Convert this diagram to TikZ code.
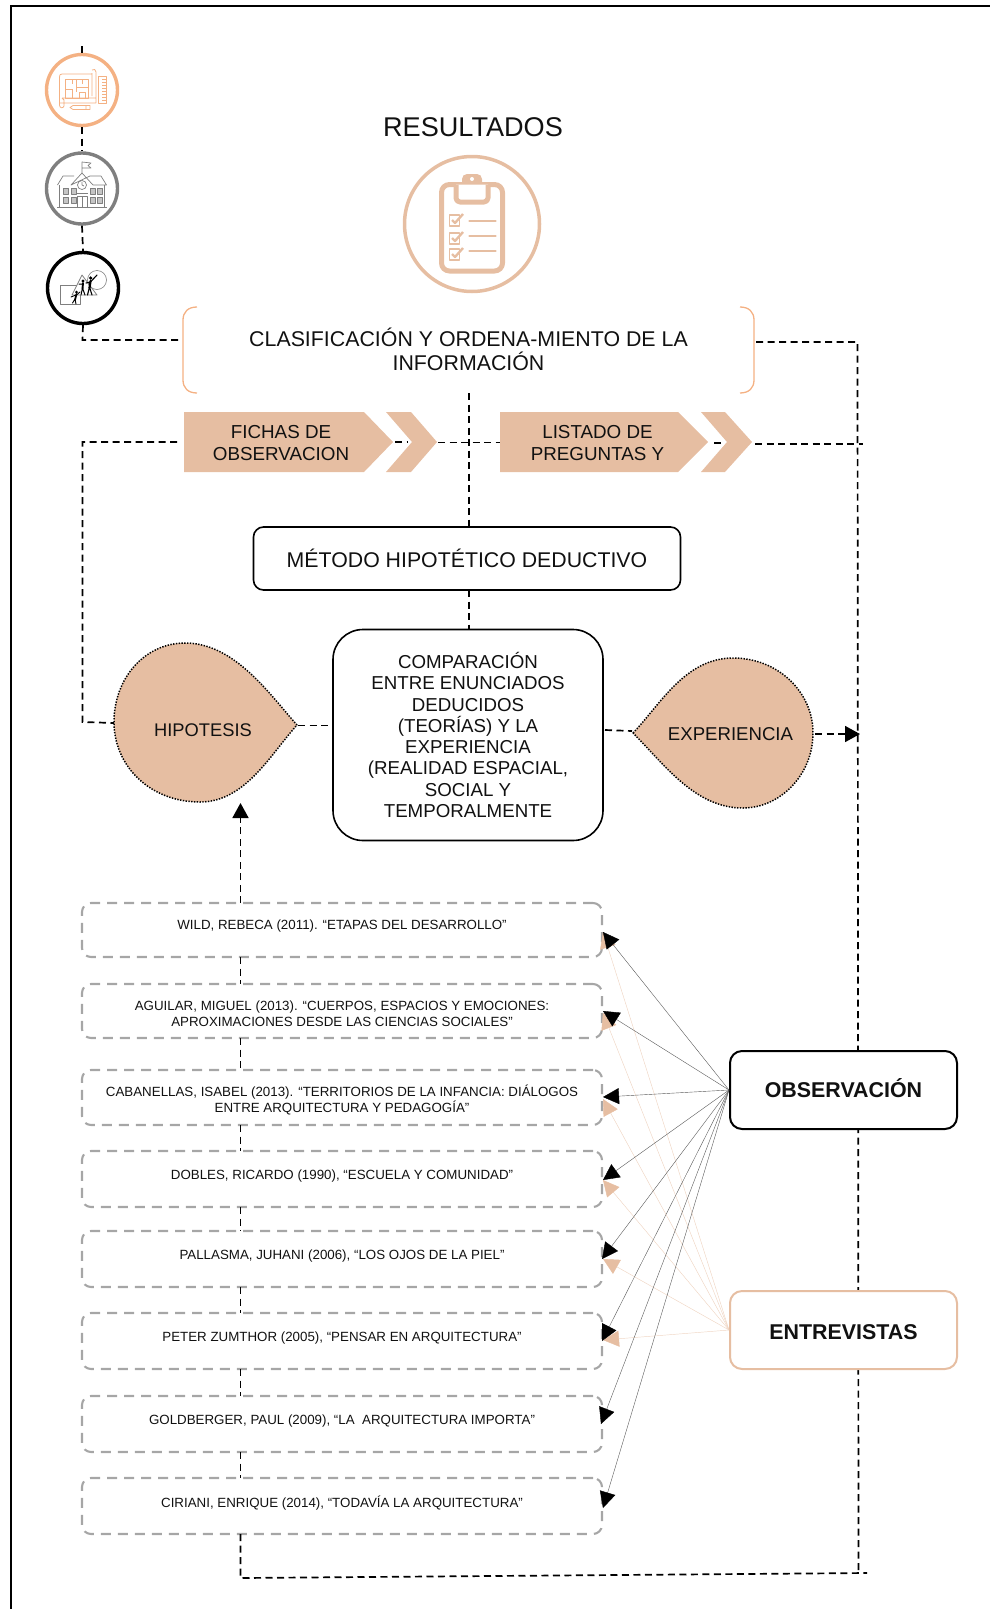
\documentclass[tikz,border=0pt]{standalone}
\usepackage{fontspec}
\setmainfont{Liberation Sans}
\usetikzlibrary{arrows.meta,calc}
\definecolor{peach}{HTML}{E6BEA2}
\definecolor{orng}{HTML}{F4B183}
\definecolor{gry}{HTML}{7F7F7F}
\definecolor{lgry}{HTML}{A6A6A6}
\definecolor{txt}{HTML}{111111}
\newcommand{\rtxt}[2]{\raisebox{#1}[0pt][0pt]{\begin{tabular}{@{}c@{}}#2\end{tabular}}}
\tikzset{
  dashline/.style={line width=1.7pt,dash pattern=on 7pt off 4.5pt,black},
  iconring/.style={circle,minimum size=71pt,inner sep=0pt,line width=3.4pt,draw},
  refbox/.style={draw=lgry,line width=2.1pt,dash pattern=on 10pt off 7pt,rounded corners=9pt,minimum width=520pt,inner sep=0pt,font=\fontsize{13.33}{15.2}\selectfont,text=txt},
  blackbox/.style={draw=black,line width=1.6pt,fill=white,inner sep=0pt,align=center,text=txt},
  drop/.style={fill=peach,draw=black,line width=1.5pt,dash pattern=on 1.4pt off 1.4pt},
  plain/.style={inner sep=0pt,align=center,text=txt},
  mid/.style={font=\fontsize{18.8}{22}\selectfont},
  blk/.style={line width=.4pt,draw=black!65,-{Triangle[length=16pt,width=16pt,color=black]}},
  org/.style={line width=.45pt,draw=peach!65,-{Triangle[length=16pt,width=16pt,color=peach]}},
  sideb/.style={line width=2pt,rounded corners=12pt,minimum width=227pt,minimum height=78pt,inner sep=0pt,fill=white,font=\fontsize{21.4}{25}\selectfont\bfseries,text=txt,text height=15.3pt,text depth=0pt},
}
\begin{document}
\begin{tikzpicture}[x=1pt,y=-1pt]
\useasboundingbox (0,0) rectangle (990,1609);
\draw[line width=2.6pt,black] (11,1609) -- (11,6) -- (990,6);

% left icon column
\coordinate (ctop) at (82,46);
\coordinate (cbend) at (82.5,340);
\node[iconring,draw=orng] (c1) at (82,90) {};
\node[iconring,draw=gry] (c2) at (82,188.5) {};
\node[iconring,draw=black] (c3) at (83,288) {};
\draw[dashline] (ctop) -- (c1.north);
\draw[dashline] (c1.south) -- (c2.north);
\draw[dashline] (c2.south) -- (c3.north);

% blueprint icon
\begin{scope}[orng,line width=.8pt,line join=round]
  \draw (92,73) -- (92,96) (92,70) .. controls (94,68) and (96,70) .. (96,72) -- (96,98) -- (62,98) (60,103) -- (96,103) -- (96,98)
        (92,74) -- (62,74) .. controls (60,74) and (59.5,75) .. (59.5,77) -- (59.5,105) .. controls (59.5,108) and (63,109) .. (64,106) -- (64,100) -- (62,98);
  \draw (65,79) rectangle (88,98);
  \draw (65,89) -- (72,89) (72,79) -- (72,84) (72,89) -- (72,98) (76,79) -- (76,92) (76,87) -- (88,87) (79,92) rectangle (85,98) (82,79) -- (82,84);
  \draw (98,76) rectangle (106,103);
  \foreach \yy in {79,82,...,100} \draw (102,\yy) -- (106,\yy);
  \draw (70,107.5) -- (73,105.5) -- (90,105.5) -- (90,109.5) -- (73,109.5) -- cycle (86,105.5) -- (86,109.5);
\end{scope}
% school icon
\begin{scope}[gry,line width=.7pt,line join=round]
  \draw (82,173) -- (82,162) -- (91,163) -- (88,165.5) -- (91,168) -- (82,168);
  \draw (57.5,185) -- (63,176) -- (74,176) (90,176) -- (101,176) -- (106.5,185) -- (93,185) -- (82,173) -- (71,185) -- cycle;
  \draw (59.5,185) -- (59.5,207) (104.5,185) -- (104.5,207) (57,207) -- (107,207);
  \draw (82,185) circle (4.5pt) (82,182) -- (82,185) -- (84,186);
  \draw (77.5,207) -- (77.5,196) -- (87,196) -- (87,207) (82,196) -- (82,207) (76.5,193.5) -- (88,193.5);
  \foreach \xx in {63.5,71,90,97.5} \foreach \yy in {188,197} \draw[fill=gry!45] (\xx,\yy) rectangle ++(5,6);
\end{scope}
% play icon
\begin{scope}[line join=round]
  \draw[gry,line width=.8pt] (60,285) rectangle (80,304);
  \draw[gry,line width=.8pt,fill=white] (82,275) -- (97,295) -- (72,295) -- cycle;
  \draw[gry,line width=.6pt] (97,280) circle (9.5pt);
  \begin{scope}[black,line cap=round]
    \fill (90.7,278) circle (1.8pt) (83,281) circle (1.6pt) (76.5,292) circle (1.5pt);
    \draw[line width=2.2pt] (90.5,281) -- (89.5,288);
    \draw[line width=1.1pt] (89.5,287) -- (87.5,295) (89.5,287) -- (92,295) (90.5,282) -- (97,275) (90.5,282) -- (86,283);
    \draw[line width=1.9pt] (83,283) -- (82.5,289);
    \draw[line width=1pt] (82.5,288) -- (81,295) (82.5,288) -- (85,295) (83,284) -- (79,284);
    \draw[line width=1.8pt] (76.5,294) -- (75,300);
    \draw[line width=.9pt] (75,299) -- (72.5,303) (75,299) -- (76,304) (76.5,295) -- (80,292) (76,295) -- (71,297);
  \end{scope}
\end{scope}

% title and clipboard
\node[plain,font=\fontsize{27.1}{30}\selectfont] (title) at (473,127) {RESULTADOS};
\node[circle,draw=peach,line width=3.5pt,minimum size=135pt,inner sep=0pt] (clip) at (472,224) {};
\begin{scope}[peach,line join=round]
  \fill (462,184) -- (462,179) arc[start angle=180,end angle=90,radius=5pt] -- (477,174) arc[start angle=90,end angle=0,radius=5pt] -- (482,184) -- cycle;
  \fill[white] (472,179) circle (2pt);
  \draw[line width=5pt,rounded corners=8pt] (441.5,184.5) rectangle (502.5,271);
  \draw[line width=5pt,fill=white,rounded corners=4pt] (456,184.5) -- (456,202) -- (488,202) -- (488,184.5);
  \foreach \yy/\ly in {215/221,233/236,249/251} {
    \draw[line width=1.9pt] (449.5,\yy) rectangle ++(10,11);
    \draw[line width=2.4pt] (452,\yy+5) -- (455,\yy+8) -- (463,\yy-1);
    \draw[line width=2.6pt,line cap=round] (469.5,\ly) -- (495.5,\ly);
  }
\end{scope}

% classification bracket
\node[plain,font=\fontsize{21.35}{23.5}\selectfont,minimum width=570pt,minimum height=86pt] (clas) at (468.5,349.5) {CLASIFICACIÓN Y ORDENA-MIENTO DE LA\\[-0.1pt]INFORMACIÓN};
\draw[orng,line width=1.3pt] (197,307) .. controls (188,307) and (183,312) .. (183,320) -- (183,380) .. controls (183,388) and (188,393) .. (197,393);
\draw[orng,line width=1.3pt] (740,307) .. controls (749,307) and (754,312) .. (754,320) -- (754,380) .. controls (754,388) and (749,393) .. (740,393);

% chevrons
\fill[peach] (184,412) -- (364,412) -- (393,442) -- (364,472) -- (184,472) -- cycle;
\fill[peach] (386,412) -- (411,412) -- (437,442) -- (411,472) -- (386,472) -- (412,442) -- cycle;
\fill[peach] (500,412) -- (678,412) -- (708,442) -- (678,472) -- (500,472) -- cycle;
\fill[peach] (701,412) -- (725,412) -- (752,442) -- (725,472) -- (701,472) -- (727,442) -- cycle;
\node[plain,mid,minimum width=185pt,minimum height=60pt] (fichas) at (281,443.5) {FICHAS DE\\OBSERVACION};
\node[plain,mid,minimum width=185pt,minimum height=60pt] (listado) at (597.5,443.5) {LISTADO DE\\PREGUNTAS Y};
\coordinate (chev1) at (438,442.5);
\coordinate (chev2) at (755,444);
\coordinate (gap1a) at (395,442);
\coordinate (gap1b) at (408,442);
\coordinate (gap2a) at (714,443);
\coordinate (gap2b) at (723,443);
\coordinate (lst) at (500,442.5);
\coordinate (fleft) at (177,442);

% method
\node[blackbox,rounded corners=10pt,minimum width=427pt,minimum height=63pt,font=\fontsize{21.3}{25}\selectfont] (met) at (467,558.5) {MÉTODO HIPOTÉTICO DEDUCTIVO};
\node[blackbox,rounded corners=30pt,minimum width=270pt,minimum height=211pt,font=\fontsize{18.7}{21.3}\selectfont] (comp) at (468,735) {COMPARACIÓN\\ENTRE ENUNCIADOS\\DEDUCIDOS\\(TEORÍAS) Y LA\\EXPERIENCIA\\(REALIDAD ESPACIAL,\\SOCIAL Y\\TEMPORALMENTE};

% drops
\draw[drop] (297,725) .. controls (270,695) and (235,643) .. (185,643) .. controls (145,643) and (114,678) .. (114,722) .. controls (114,766) and (150,802) .. (200,802) .. controls (245,802) and (270,755) .. (297,725) -- cycle;
\draw[drop] (633,733) .. controls (660,705) and (685,658) .. (733,658) .. controls (778,658) and (813,692) .. (813,733) .. controls (813,775) and (780,808) .. (743,808) .. controls (695,808) and (665,765) .. (633,733) -- cycle;
\node[plain,font=\fontsize{18.3}{22}\selectfont] (hip) at (203,730.5) {HIPOTESIS};
\node[plain,font=\fontsize{18.6}{22}\selectfont] (exp) at (730.5,734.5) {EXPERIENCIA};
\coordinate (hipL) at (114,723);
\coordinate (hipR) at (298,725.5);
\coordinate (compL) at (333,725.5);
\coordinate (compR) at (605,730);
\coordinate (expL) at (632,731);
\coordinate (expR) at (815,734);
\coordinate (hipB) at (240.5,803);

% reference boxes
\node[refbox,minimum height=54pt] (r1) at (342,930) {\rtxt{0pt}{WILD, REBECA (2011). “ETAPAS DEL DESARROLLO”}};
\node[refbox,minimum height=54pt] (r2) at (342,1011) {\rtxt{-8pt}{AGUILAR, MIGUEL (2013). “CUERPOS, ESPACIOS Y EMOCIONES:\\APROXIMACIONES DESDE LAS CIENCIAS SOCIALES”}};
\node[refbox,minimum height=55pt] (r3) at (342,1097.5) {\rtxt{-7.2pt}{CABANELLAS, ISABEL (2013). “TERRITORIOS DE LA INFANCIA: DIÁLOGOS\\ENTRE ARQUITECTURA Y PEDAGOGÍA”}};
\node[refbox,minimum height=56pt] (r4) at (342,1179) {\rtxt{-1pt}{DOBLES, RICARDO (1990), “ESCUELA Y COMUNIDAD”}};
\node[refbox,minimum height=56pt] (r5) at (342,1259) {\rtxt{-1pt}{PALLASMA, JUHANI (2006), “LOS OJOS DE LA PIEL”}};
\node[refbox,minimum height=56pt] (r6) at (342,1341) {\rtxt{-1pt}{PETER ZUMTHOR (2005), “PENSAR EN ARQUITECTURA”}};
\node[refbox,minimum height=56pt] (r7) at (342,1424) {\rtxt{-1pt}{GOLDBERGER, PAUL (2009), “LA\ \ ARQUITECTURA IMPORTA”}};
\node[refbox,minimum height=56pt] (r8) at (342,1506) {\rtxt{-2pt}{CIRIANI, ENRIQUE (2014), “TODAVÍA LA ARQUITECTURA”}};

% dashed connectors
\coordinate (clasW) at (182,340);
\coordinate (clasE) at (756,342);
\draw[dashline] (c3.south) -- (cbend) -- (clasW);
\coordinate (rtop) at (857.5,342);
\coordinate (rbot) at (858.5,1573);
\coordinate (rbotend) at (867,1573);
\coordinate (lbot) at (240.5,1578);
\coordinate (lmid) at (82.5,442);
\coordinate (lmid2) at (82.5,722);
\coordinate (vA) at (469,393);
\coordinate (vB) at (469,527);
\coordinate (vC) at (469,590);
\coordinate (vD) at (469,629);
\coordinate (lstR) at (863,444);
\coordinate (expArrow) at (860,734);
\coordinate (r1top) at (240.5,903);
\coordinate (r1bot) at (240.5,957);
\coordinate (r2top) at (240.5,984);
\coordinate (r2bot) at (240.5,1038);
\coordinate (r3top) at (240.5,1070);
\coordinate (r3bot) at (240.5,1125);
\coordinate (r4top) at (240.5,1151);
\coordinate (r4bot) at (240.5,1207);
\coordinate (r5top) at (240.5,1231);
\coordinate (r5bot) at (240.5,1287);
\coordinate (r6top) at (240.5,1313);
\coordinate (r6bot) at (240.5,1369);
\coordinate (r7top) at (240.5,1396);
\coordinate (r7bot) at (240.5,1452);
\coordinate (r8top) at (240.5,1478);
\coordinate (r8bot) at (240.5,1534);
\draw[dashline] (clasE) -- (rtop) -- (rbot);
\draw[dashline] (r8bot) -- (lbot) -- (rbotend);
\draw[dashline] (vA) -- (vB);
\draw[dashline] (vC) -- (vD);
\draw[dashline] (fleft) -- (lmid) -- (lmid2) -- (hipL);
\draw[dashline] (gap1a) -- (gap1b);
\draw[dashline] (chev1) -- (lst);
\draw[dashline] (gap2a) -- (gap2b);
\draw[dashline] (chev2) -- (lstR);
\draw[dashline] (hipR) -- (compL);
\draw[dashline] (compR) -- (expL);
\draw[dashline,-{Triangle[length=15pt,width=16pt]}] (expR) -- (expArrow);
\draw[dashline,-{Triangle[length=15pt,width=16pt]}] (r1top) -- (hipB);
\draw[dashline] (r1bot) -- (r2top);
\draw[dashline] (r2bot) -- (r3top);
\draw[dashline] (r3bot) -- (r4top);
\draw[dashline] (r4bot) -- (r5top);
\draw[dashline] (r5bot) -- (r6top);
\draw[dashline] (r6bot) -- (r7top);
\draw[dashline] (r7bot) -- (r8top);

% side boxes
\node[sideb,draw=black] (obs) at (843.5,1090) {OBSERVACIÓN};
\node[sideb,draw=peach,text height=19.5pt] (ent) at (843.5,1330) {ENTREVISTAS};

% source lines
\coordinate (o1) at (603,932);
\coordinate (o2) at (603,1013);
\coordinate (o3) at (603,1099);
\coordinate (o4) at (603,1180);
\coordinate (o5) at (603,1259);
\coordinate (o6) at (603,1340);
\foreach \n in {1,...,6} \draw[org] (ent.west) -- (o\n);
\coordinate (a1) at (603,932);
\coordinate (a2) at (603,1011);
\coordinate (a3) at (603,1097);
\coordinate (a4) at (603,1180);
\coordinate (a5) at (602,1259);
\coordinate (a6) at (602,1341);
\coordinate (a7) at (601,1424);
\coordinate (a8) at (603,1508);
\foreach \n in {1,...,8} \draw[blk] (obs.west) -- (a\n);
\end{tikzpicture}
\end{document}
